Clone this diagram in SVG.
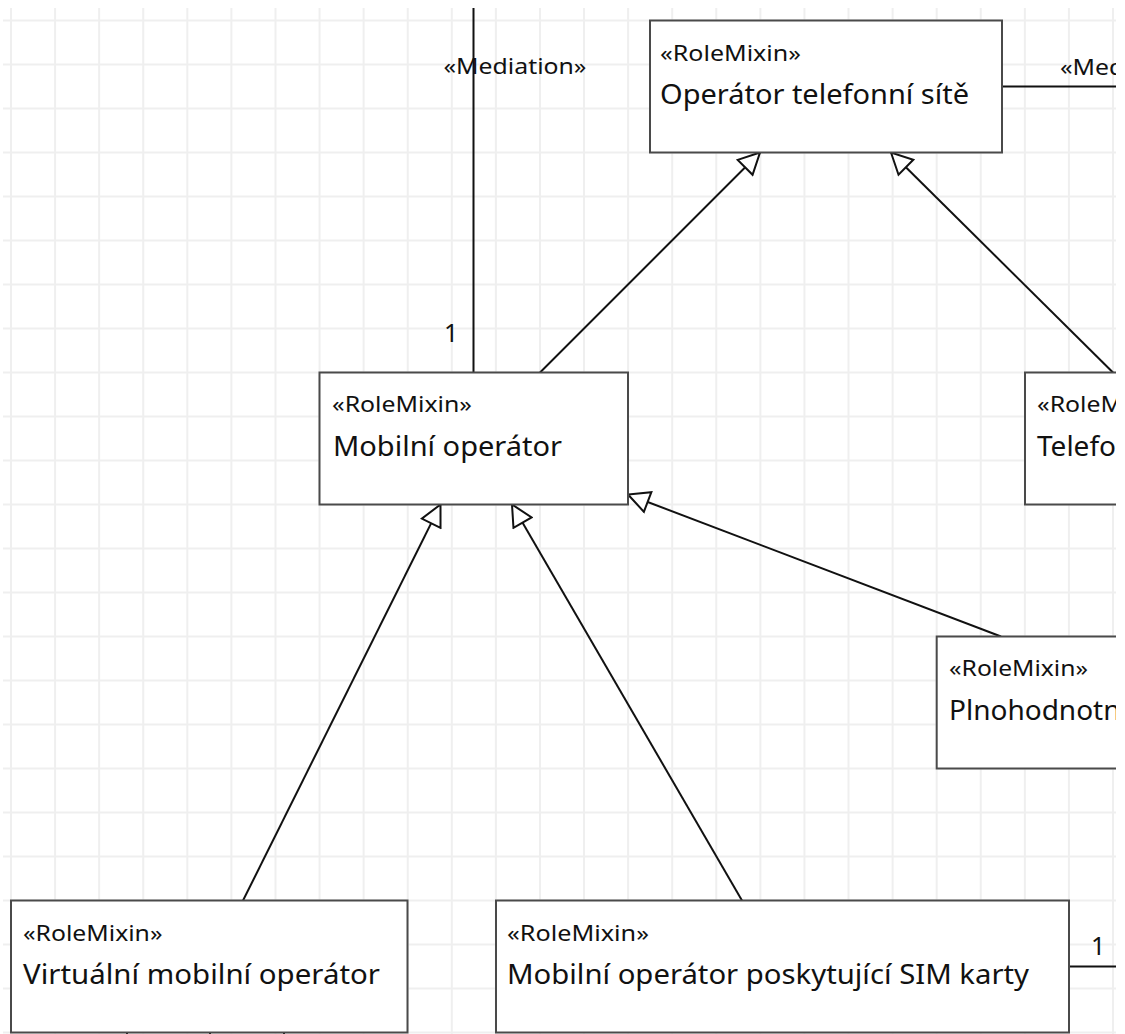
<svg xmlns="http://www.w3.org/2000/svg" width="1125" height="1034" viewBox="0 0 1125 1034">
<style>
.grid{stroke:#efefef;stroke-width:2;fill:none}
.box{fill:#fff;stroke:#4a4a4a;stroke-width:2}
.st{font-family:"Noto Sans","Open Sans","DejaVu Sans",sans-serif;font-size:22px;fill:#111}
.nm{font-family:"Noto Sans","Open Sans","DejaVu Sans",sans-serif;font-size:28px;fill:#111}
.lb{font-family:"Noto Sans","Open Sans","DejaVu Sans",sans-serif;font-size:22px;fill:#111}
.mul{font-family:"Noto Sans","Open Sans","DejaVu Sans",sans-serif;font-size:25px;fill:#111}
.ln{stroke:#111;stroke-width:2;fill:none}
</style>
<defs>
<clipPath id="view"><rect x="3" y="8" width="1113" height="1026"/></clipPath>
<marker id="gen" viewBox="-23 -12 25 24" markerWidth="25" markerHeight="24" refX="0" refY="0" orient="auto" markerUnits="userSpaceOnUse">
<path d="M0,0 L-21,-10.5 L-21,10.5 Z" fill="#fff" stroke="#111" stroke-width="2" stroke-linejoin="miter"/>
</marker>
</defs>
<rect width="1125" height="1034" fill="#fff"/>
<g clip-path="url(#view)">
<g id="grid">
<path class="grid" d="M11,8V1034 M55.08,8V1034 M99.16,8V1034 M143.24,8V1034 M187.32,8V1034 M231.4,8V1034 M275.48,8V1034 M319.56,8V1034 M363.64,8V1034 M407.72,8V1034 M451.8,8V1034 M495.88,8V1034 M539.96,8V1034 M584.04,8V1034 M628.12,8V1034 M672.2,8V1034 M716.28,8V1034 M760.36,8V1034 M804.44,8V1034 M848.52,8V1034 M892.6,8V1034 M936.68,8V1034 M980.76,8V1034 M1024.84,8V1034 M1068.92,8V1034 M1113,8V1034"/>
<path class="grid" d="M3,20.5H1116 M3,64.5H1116 M3,108.5H1116 M3,152.5H1116 M3,196.5H1116 M3,240.5H1116 M3,284.5H1116 M3,328.5H1116 M3,372.5H1116 M3,416.5H1116 M3,460.5H1116 M3,504.5H1116 M3,548.5H1116 M3,592.5H1116 M3,636.5H1116 M3,680.5H1116 M3,724.5H1116 M3,768.5H1116 M3,812.5H1116 M3,856.5H1116 M3,900.5H1116 M3,944.5H1116 M3,988.5H1116 M3,1032.5H1116"/>
</g>
<g id="connectors">
<path class="ln" d="M473.5,0V372.5"/>
<path class="ln" d="M1002,86.5H1130"/>
<path class="ln" d="M1069,966.5H1130"/>
<path class="ln" d="M127,1032.5V1040 M210,1032.5V1040 M284,1032.5V1040"/>
<path class="ln" d="M540,372.5L760,152.5" marker-end="url(#gen)"/>
<path class="ln" d="M1113,372.5L891,152.5" marker-end="url(#gen)"/>
<path class="ln" d="M243,900.5L440.5,504.5" marker-end="url(#gen)"/>
<path class="ln" d="M742,900.5L512,504.5" marker-end="url(#gen)"/>
<path class="ln" d="M1001,636.5L628,494.5" marker-end="url(#gen)"/>
<text class="lb" x="443.5" y="74" textLength="143" lengthAdjust="spacingAndGlyphs">«Mediation»</text>
<text class="lb" x="1060" y="74.5" textLength="143" lengthAdjust="spacingAndGlyphs">«Mediation»</text>
<text class="mul" x="444" y="341.5">1</text>
<text class="mul" x="1091" y="955">1</text>
</g>
<g id="n-operator-site">
<rect class="box" x="650" y="20.5" width="352" height="132"/>
<text class="st" x="660" y="60.5" textLength="141" lengthAdjust="spacingAndGlyphs">«RoleMixin»</text>
<text class="nm" x="660" y="103.5" textLength="309" lengthAdjust="spacingAndGlyphs">Operátor telefonní sítě</text>
</g>
<g id="n-mobilni">
<rect class="box" x="319.5" y="372.5" width="308.5" height="132"/>
<text class="st" x="332" y="412" textLength="140" lengthAdjust="spacingAndGlyphs">«RoleMixin»</text>
<text class="nm" x="333" y="455.5" textLength="229" lengthAdjust="spacingAndGlyphs">Mobilní operátor</text>
</g>
<g id="n-telefo">
<rect class="box" x="1025" y="372.5" width="200" height="132"/>
<text class="st" x="1037" y="412" textLength="140" lengthAdjust="spacingAndGlyphs">«RoleMixin»</text>
<text class="nm" x="1037" y="455.5">Telefo</text>
</g>
<g id="n-plno">
<rect class="box" x="936.7" y="636.5" width="300" height="132"/>
<text class="st" x="949" y="676" textLength="139" lengthAdjust="spacingAndGlyphs">«RoleMixin»</text>
<text class="nm" x="949" y="719.5">Plnohodnotn</text>
</g>
<g id="n-virtual">
<rect class="box" x="11" y="900.5" width="396.5" height="132"/>
<text class="st" x="23" y="940.5" textLength="139.5" lengthAdjust="spacingAndGlyphs">«RoleMixin»</text>
<text class="nm" x="23" y="983.5" textLength="357" lengthAdjust="spacingAndGlyphs">Virtuální mobilní operátor</text>
</g>
<g id="n-sim">
<rect class="box" x="496" y="900.5" width="573" height="132"/>
<text class="st" x="507" y="940.5" textLength="142" lengthAdjust="spacingAndGlyphs">«RoleMixin»</text>
<text class="nm" x="507" y="983.5" textLength="522" lengthAdjust="spacingAndGlyphs">Mobilní operátor poskytující SIM karty</text>
</g>
</g>
</svg>
